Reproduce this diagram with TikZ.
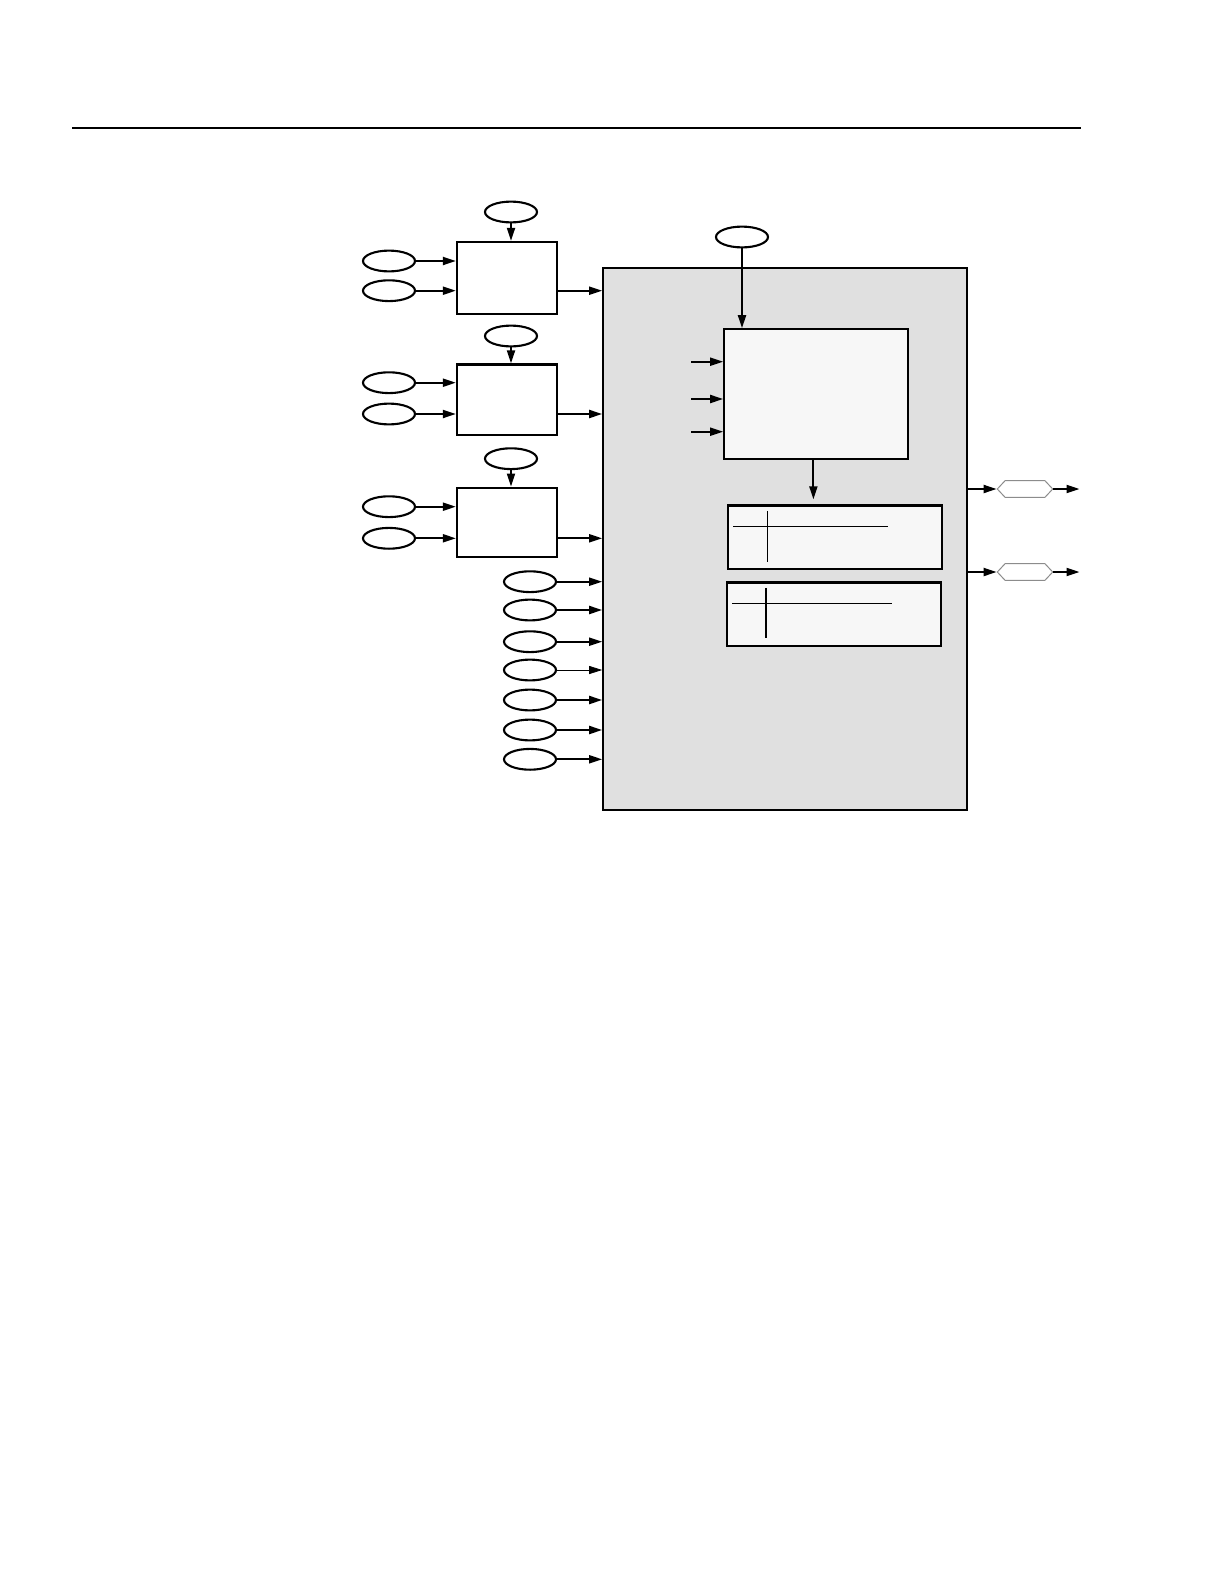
\documentclass[tikz,border=0pt]{standalone}
\usetikzlibrary{arrows.meta,positioning,shapes.geometric,shapes.symbols}

\begin{document}
\begin{tikzpicture}[x=0.5pt,y=-0.5pt,>={Triangle[length=6.5pt,width=4pt]},
  blk/.style={draw,line width=1.15pt,fill=white,minimum width=50pt,inner sep=0pt},
  ell/.style={draw,ellipse,line width=1.05pt,minimum width=26pt,minimum height=10.4pt,inner sep=0pt},
  outer/.style={draw,line width=1.15pt,fill=black!12,inner sep=0pt},
  inbox/.style={draw,line width=1.15pt,fill=black!3,inner sep=0pt},
  panel/.style={inbox,minimum width=107pt,minimum height=31.8pt},
  hexa/.style={draw=black!45,line width=0.5pt,fill=white,signal,signal to=west and east,
    signal pointer angle=94,minimum width=27.7pt,minimum height=8.4pt,inner sep=0pt},
  arr/.style={->,line width=1pt}]

  \useasboundingbox (0,0) rectangle (1224,1584);

  % ==========================================
  % HEADER RULE
  % ==========================================
  \coordinate (rule_l) at (72,128);
  \coordinate (rule_r) at (1081,128);
  \draw[line width=1.4pt] (rule_l) -- (rule_r);

  % ==========================================
  % MAIN BLOCK (GREY)
  % ==========================================
  \node[outer,minimum width=181.7pt,minimum height=271pt] (main) at (785,539) {};

  % ==========================================
  % FRONT-END BLOCKS (LEFT)
  % ==========================================
  \foreach \i/\y/\h/\t/\a/\b in {1/278/36/212/261/290.7,
                                 2/399.7/35.2/336/382.7/414,
                                 3/522.2/34.5/458.7/506.7/538.3} {
      \node[blk,minimum height=\h pt] (blk\i) at (507,\y) {};
      \node[ell] (top\i) at (511,\t) {};
      \node[ell] (ina\i) at (389,\a) {};
      \node[ell] (inb\i) at (389,\b) {};
      \draw[arr] (top\i) -- (top\i |- blk\i.north);
      \draw[arr] (ina\i) -- (ina\i -| blk\i.west);
      \draw[arr] (inb\i) -- (inb\i -| blk\i.west);
      \draw[arr] (blk\i.east |- inb\i) -- (inb\i -| main.west);
  }

  % Direct inputs into the main block
  \foreach \y/\w [count=\k] in {581.7/1,610/1,641.7/1,670/0.4,700/1,730/1,759.3/1} {
      \node[ell] (sig\k) at (530,\y) {};
      \draw[arr,line width=\w pt] (sig\k) -- (sig\k -| main.west);
  }

  % ==========================================
  % INSIDE THE MAIN BLOCK
  % ==========================================
  \node[ell] (clk) at (742,237) {};
  \node[inbox,minimum width=91.7pt,minimum height=64.7pt] (core) at (816,394) {};
  \draw[arr] (clk) -- (clk |- core.north);

  \foreach \y [count=\k] in {361.7,399,431.7} {
      \coordinate (cin\k) at (691,\y);
      \draw[arr] (cin\k) -- (cin\k -| core.west);
  }

  \node[panel] (pan1) at (835.3,537.3) {};
  \node[panel] (pan2) at (834.2,614.2) {};

  \coordinate (drop) at ([xshift=-1.3pt]core.south);
  \draw[arr,shorten >=2.5pt] (drop) -- (drop |- pan1.north);

  % cross lines in the panels
  \foreach \p/\l in {pan1/77.5,pan2/80} {
      \draw[line width=0.65pt] ([shift={(3pt,-11pt)}]\p.north west) -- ++(\l pt,0pt);
      \draw[line width=0.65pt] ([shift={(20pt,-3.3pt)}]\p.north west) -- ++(0pt,-25.3pt);
  }

  % ==========================================
  % OUTPUTS (RIGHT)
  % ==========================================
  \foreach \y [count=\k] in {489,572} {
      \node[hexa] (out\k) at (1025,\y) {};
      \coordinate (oend\k) at (1079.5,\y);
      \draw[arr] (main.east |- out\k) -- (out\k);
      \draw[arr] (out\k) -- (oend\k);
  }

\end{tikzpicture}
\end{document}
